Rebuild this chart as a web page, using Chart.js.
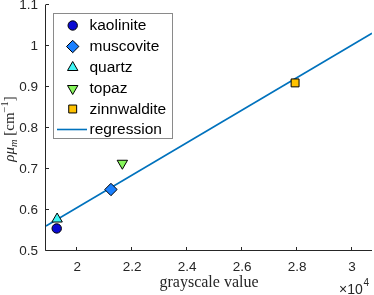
<!DOCTYPE html>
<html>
<head>
<meta charset="utf-8">
<script src="https://cdn.jsdelivr.net/npm/chart.js@4/dist/chart.umd.min.js"></script>
<style>
  html, body { margin: 0; padding: 0; background: #fff; }
  #wrap { width: 374px; height: 295px; }
</style>
</head>
<body>
<div id="wrap"><canvas id="chart" width="374" height="295"></canvas></div>
<script>
// --- Data ---
const materials = ['kaolinite', 'muscovite', 'quartz', 'topaz', 'zinnwaldite'];
const grayscale = [19250, 21225, 19265, 21640, 27930];
const density = [0.555, 0.65, 0.578, 0.714, 0.91];
const fitX = [18860, 30730];
const fitY = [0.561, 1.031];
const xTicks = [20000, 22000, 24000, 26000, 28000, 30000];
const xTickLabels = ['2', '2.2', '2.4', '2.6', '2.8', '3'];
const yTicks = [0.5, 0.6, 0.7, 0.8, 0.9, 1.0, 1.1];
const yTickLabels = ['0.5', '0.6', '0.7', '0.8', '0.9', '1', '1.1'];

// marker look per material
const markerStyle = {
    kaolinite:   { pointStyle: 'circle',   radius: 4.7, rotation: 0,   color: '#0a0ad2', order: 1 },
    muscovite:   { pointStyle: 'rectRot',  radius: 6.2, rotation: 0,   color: '#1a80ff', order: 3 },
    quartz:      { pointStyle: 'triangle', radius: 6,   rotation: 0,   color: '#40f5f5', order: 5 },
    topaz:       { pointStyle: 'triangle', radius: 6,   rotation: 180, color: '#86f55c', order: 4 },
    zinnwaldite: { pointStyle: 'rect',     radius: 5.6, rotation: 0,   color: '#ffc200', order: 2 }
};
const lineColor = '#0072BD';
const axisColor = '#262626';

const datasets = materials.map((name, i) => {
    const s = markerStyle[name];
    return {
        type: 'scatter',
        label: name,
        data: [{ x: grayscale[i], y: density[i] }],
        pointStyle: s.pointStyle,
        pointRadius: s.radius,
        pointRotation: s.rotation,
        pointBackgroundColor: s.color,
        pointBorderColor: '#000',
        pointBorderWidth: 1,
        order: s.order
    };
});
datasets.push({
    type: 'line',
    label: 'regression',
    data: fitX.map((x, i) => ({ x: x, y: fitY[i] })),
    borderColor: lineColor,
    borderWidth: 1.6,
    pointRadius: 0,
    fill: false,
    order: 10
});

// --- Axes lines, inward ticks, tick labels (MATLAB style) ---
const axesPlugin = {
    id: 'axesPlugin',
    beforeDatasetsDraw(chart) {
        const ctx = chart.ctx;
        const a = chart.chartArea;
        const xs = chart.scales.x, ys = chart.scales.y;
        const left = Math.round(a.left) - 0.5, bottom = Math.round(a.bottom) - 0.5;
        ctx.save();
        ctx.strokeStyle = axisColor;
        ctx.lineWidth = 1;
        ctx.beginPath();
        ctx.moveTo(left, a.top);
        ctx.lineTo(left, bottom);
        ctx.lineTo(a.right, bottom);
        xTicks.forEach(v => {
            const px = Math.round(xs.getPixelForValue(v)) - 0.5;
            ctx.moveTo(px, bottom);
            ctx.lineTo(px, bottom - 3.5);
        });
        yTicks.forEach(v => {
            const py = Math.round(ys.getPixelForValue(v)) - 0.5;
            ctx.moveTo(left, py);
            ctx.lineTo(left + 3.5, py);
        });
        ctx.stroke();

        ctx.fillStyle = axisColor;
        ctx.font = '13.5px "Liberation Sans"';
        ctx.textBaseline = 'middle';
        ctx.textAlign = 'center';
        xTicks.forEach((v, i) => {
            ctx.fillText(xTickLabels[i], xs.getPixelForValue(v), 267);
        });
        ctx.textAlign = 'right';
        yTicks.forEach((v, i) => {
            ctx.fillText(yTickLabels[i], 38, ys.getPixelForValue(v) + 0.5);
        });
        ctx.restore();
    },
    afterDraw(chart) {
        const ctx = chart.ctx;
        ctx.save();
        // x title
        ctx.fillStyle = axisColor;
        ctx.font = '16px "Liberation Serif"';
        ctx.textAlign = 'center';
        ctx.textBaseline = 'alphabetic';
        ctx.fillText('grayscale value', 209, 287);

        // exponent
        ctx.font = '14px "Liberation Sans"';
        ctx.textAlign = 'left';
        ctx.fillText('\u00d710', 339, 294);
        ctx.font = '10px "Liberation Sans"';
        ctx.fillText('4', 363.5, 286);

        // y title, rotated
        ctx.translate(14, 129);
        ctx.rotate(-Math.PI / 2);
        const parts = [
            { t: '\u03c1\u03bc', f: 'italic 15px "Liberation Serif"', dy: 0 },
            { t: 'm', f: 'italic 10.5px "Liberation Serif"', dy: 3 },
            { t: ' [cm', f: '15px "Liberation Serif"', dy: 0 },
            { t: '\u22121', f: '10.5px "Liberation Serif"', dy: -6 },
            { t: ']', f: '15px "Liberation Serif"', dy: 0 }
        ];
        let total = 0;
        parts.forEach(p => { ctx.font = p.f; total += ctx.measureText(p.t).width; });
        let x0 = -total / 2;
        parts.forEach(p => {
            ctx.font = p.f;
            ctx.fillText(p.t, x0, p.dy);
            x0 += ctx.measureText(p.t).width;
        });
        ctx.restore();

        // legend
        ctx.save();
        const lx = 53.5, ly = 13.5, lw = 119, lh = 125;
        ctx.fillStyle = '#fff';
        ctx.fillRect(lx, ly, lw, lh);
        ctx.strokeStyle = '#8a8a8a';
        ctx.lineWidth = 1;
        ctx.strokeRect(lx, ly, lw, lh);
        const rowY = [25.5, 46.5, 67.5, 88.5, 109, 129.5];
        materials.forEach((name, i) => {
            const s = markerStyle[name];
            ctx.fillStyle = s.color;
            ctx.strokeStyle = '#000';
            ctx.lineWidth = 1;
            Chart.helpers.drawPoint(ctx, {
                pointStyle: s.pointStyle, radius: s.radius, rotation: s.rotation, borderWidth: 1
            }, 72.7, rowY[i]);
        });
        ctx.strokeStyle = lineColor;
        ctx.lineWidth = 1.6;
        ctx.beginPath();
        ctx.moveTo(57, rowY[5]);
        ctx.lineTo(87, rowY[5]);
        ctx.stroke();
        ctx.fillStyle = '#000';
        ctx.font = '15.5px "Liberation Sans"';
        ctx.textAlign = 'left';
        ctx.textBaseline = 'middle';
        materials.concat(['regression']).forEach((name, i) => {
            ctx.fillText(name, 89.5, rowY[i] + 0.5);
        });
        ctx.restore();
    }
};

const ctx = document.getElementById('chart').getContext('2d');
new Chart(ctx, {
    data: { datasets: datasets },
    options: {
        responsive: false,
        animation: false,
        devicePixelRatio: 1,
        layout: { autoPadding: false, padding: { left: 46, right: 2, top: 5, bottom: 44 } },
        plugins: { legend: { display: false }, tooltip: { enabled: false } },
        scales: {
            x: { type: 'linear', display: false, min: fitX[0], max: fitX[1] },
            y: { type: 'linear', display: false, min: yTicks[0], max: yTicks[yTicks.length - 1] }
        }
    },
    plugins: [axesPlugin]
});
</script>
</body>
</html>
